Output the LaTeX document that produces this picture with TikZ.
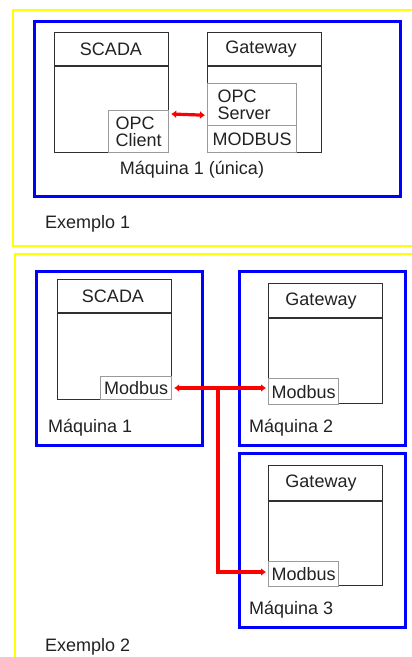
\documentclass[tikz,border=0pt]{standalone}
\usepackage{fontspec}
\setmainfont{Liberation Sans}
\usetikzlibrary{arrows.meta,calc}
\definecolor{ybox}{HTML}{FFFF00}
\definecolor{bbox}{HTML}{0000FF}
\definecolor{rline}{HTML}{FF0000}
\definecolor{gline}{HTML}{9A9A9A}
\definecolor{kline}{HTML}{303030}
\definecolor{txt}{HTML}{222222}
\tikzset{
  yframe/.style={draw=ybox, line width=2.2pt},
  bframe/.style={draw=bbox, line width=3pt},
  swbox/.style={draw=kline, line width=1.2pt, anchor=north west, inner sep=0pt, fill=white},
  ifbox/.style={draw=gline, line width=1.2pt, anchor=north west, inner sep=0pt, fill=white, text=txt, font=\fontsize{18}{17}\selectfont},
  hdr/.style={text=txt, font=\fontsize{18}{20}\selectfont, inner sep=0pt},
  lbl/.style={text=txt, font=\fontsize{18}{20}\selectfont, inner sep=0pt, anchor=west},
  link/.style={draw=rline, line width=3.2pt},
  arr/.style={link, -{Latex[length=5pt,width=8pt]}},
  darr/.style={link, {Latex[length=5pt,width=8pt]}-{Latex[length=5pt,width=8pt]}},
}
\begin{document}
\begin{tikzpicture}[x=1pt,y=-1pt]
\useasboundingbox (0,0) rectangle (412,657);
\fill[white] (0,0) rectangle (412,657);
% ---------- Exemplo 1 ----------
\draw[yframe] (13,10) rectangle (430,246);
\draw[bframe] (34,21) rectangle (400,196);
\node[swbox, minimum width=114pt, minimum height=120pt] (scada1) at (54,32) {};
\draw[draw=kline, line width=1.2pt] (54,66) -- (168,66);
\node[hdr] (scada1h) at (111,49) {SCADA};
\node[ifbox, minimum width=60pt, minimum height=42pt, align=left] (opcc) at (108,110) {OPC\\Client};
\node[swbox, minimum width=114pt, minimum height=120pt] (gw1) at (207,32) {};
\draw[draw=kline, line width=1.2pt] (207,66) -- (321,66);
\node[hdr] (gw1h) at (261,49) {Gateway};
\node[ifbox, minimum width=89pt, minimum height=42pt, text width=69pt, inner xsep=10pt, align=left] (opcs) at (207,83) {OPC\\Server};
\node[ifbox, minimum width=89pt, minimum height=27pt] (mbus1) at (207,125) {MODBUS};
\draw[darr] ([shift={(2,4)}]opcc.north east) -- ([shift={(-2,-11)}]opcs.south west);
\node[hdr] (maq1u) at (192,170) {Máquina 1 (única)};
\node[lbl] (ex1) at (45,224) {Exemplo 1};
% ---------- Exemplo 2 ----------
\draw[yframe] (15,254) rectangle (430,720);
\draw[bframe] (36,271) rectangle (202,445);
\draw[bframe] (239,271) rectangle (405,445);
\draw[bframe] (239,453) rectangle (405,627);
\node[swbox, minimum width=114pt, minimum height=120pt] (scada2) at (57,279) {};
\draw[draw=kline, line width=1.2pt] (57,313) -- (171,313);
\node[hdr] (scada2h) at (113,296) {SCADA};
\node[ifbox, minimum width=71pt, minimum height=23pt] (mb1) at (100,376) {Modbus};
\node[swbox, minimum width=114pt, minimum height=120pt] (gw2) at (268,283) {};
\draw[draw=kline, line width=1.2pt] (268,318) -- (382,318);
\node[hdr] (gw2h) at (321,301) {Gateway};
\node[ifbox, minimum width=70pt, minimum height=26pt] (mb2) at (268,378) {Modbus};
\node[swbox, minimum width=114pt, minimum height=120pt] (gw3) at (268,465) {};
\draw[draw=kline, line width=1.2pt] (268,501) -- (382,501);
\node[hdr] (gw3h) at (321,483) {Gateway};
\node[ifbox, minimum width=70pt, minimum height=25pt] (mb3) at (268,561) {Modbus};
\coordinate (jn) at (218,388);
\coordinate (bend) at (218,572);
\draw[darr] ([shift={(2,12)}]mb1.north east) -- ([shift={(-2,10)}]mb2.north west);
\draw[arr] (jn) -- (bend) -- ([shift={(-2,11)}]mb3.north west);
\node[lbl] (m1) at (48,428) {Máquina 1};
\node[lbl] (m2) at (249,428) {Máquina 2};
\node[lbl] (m3) at (249,610) {Máquina 3};
\node[lbl] (ex2) at (45,647) {Exemplo 2};
\end{tikzpicture}
\end{document}
